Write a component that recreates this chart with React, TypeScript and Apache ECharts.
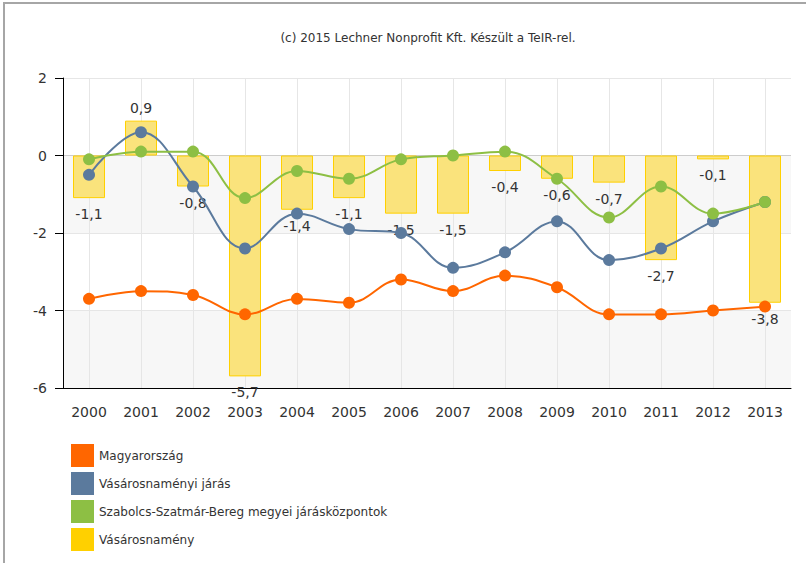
import React, { useEffect, useRef } from "react";
import * as echarts from "echarts";

const categories = ["2000","2001","2002","2003","2004","2005","2006","2007","2008","2009","2010","2011","2012","2013"];
const vasarosnameny = [-1.1, 0.9, -0.8, -5.7, -1.4, -1.1, -1.5, -1.5, -0.4, -0.6, -0.7, -2.7, -0.1, -3.8];
const magyarorszag = [-3.7, -3.5, -3.6, -4.1, -3.7, -3.8, -3.2, -3.5, -3.1, -3.4, -4.1, -4.1, -4.0, -3.9];
const jaras = [-0.5, 0.6, -0.8, -2.4, -1.5, -1.9, -2.0, -2.9, -2.5, -1.7, -2.7, -2.4, -1.7, -1.2];
const kozpontok = [-0.1, 0.1, 0.1, -1.1, -0.4, -0.6, -0.1, 0.0, 0.1, -0.6, -1.6, -0.8, -1.5, -1.2];
const yTicks = { min: -6, max: 2, interval: 2 };
const names = ["Magyarország", "Vásárosnaményi járás", "Szabolcs-Szatmár-Bereg megyei járásközpontok", "Vásárosnamény"];
const colors = ["#ff6600", "#5b7a9d", "#8dbf44", "#ffd000"];
const titleText = "(c) 2015 Lechner Nonprofit Kft. Készült a TeIR-rel.";

const FONT = "DejaVu Sans, Verdana, sans-serif";
const fmt = (v: number) => v.toFixed(1).replace(".", ",");

export default function App() {
  const ref = useRef<HTMLDivElement>(null);
  useEffect(() => {
    document.body.style.margin = "0";
    if (!ref.current) return;
    const chart = echarts.init(ref.current, undefined, { renderer: "svg" });
    const lineSeries = (name: string, data: number[], color: string) => ({
      name,
      type: "line",
      data,
      smooth: 0.4,
      symbol: "circle",
      symbolSize: 12,
      itemStyle: { color },
      lineStyle: { color, width: 2 },
      z: 3,
    });
    chart.setOption({
      animation: false,
      textStyle: { fontFamily: FONT },
      graphic: [
        {
          type: "rect",
          shape: { x: 4, y: 3, width: 900, height: 800 },
          style: { fill: "none", stroke: "#a6a6a6", lineWidth: 2 },
          silent: true,
        },
        {
          type: "text",
          x: 428,
          y: 38,
          style: {
            text: titleText,
            fill: "#333",
            font: "12px " + FONT,
            textAlign: "center",
            textVerticalAlign: "middle",
          },
        },
      ],
      legend: {
        orient: "vertical",
        left: 71,
        top: 444,
        height: 115,
        padding: 0,
        itemWidth: 23,
        itemHeight: 23,
        itemGap: 5,
        icon: "rect",
        data: names.map((n, i) => ({
          name: n,
          itemStyle: { color: colors[i], borderWidth: 0 },
        })),
        textStyle: { fontSize: 12, color: "#333", fontFamily: FONT },
        selectedMode: false,
      },
      grid: [
        { left: 63, right: 15, top: 78, bottom: 175 },
        { left: 89, right: 41, top: 78, bottom: 175 },
      ],
      xAxis: [
        {
          type: "category",
          data: categories,
          gridIndex: 0,
          boundaryGap: true,
          axisLine: { onZero: false, lineStyle: { color: "#000", width: 1 } },
          axisTick: { alignWithLabel: true, length: 6, lineStyle: { color: "#000" } },
          axisLabel: { color: "#333", fontSize: 14, margin: 17, fontFamily: FONT },
          splitLine: { show: false },
          z: 2,
        },
        {
          type: "category",
          data: categories,
          gridIndex: 1,
          boundaryGap: false,
          axisLine: { show: false },
          axisTick: { show: false },
          axisLabel: { show: false },
          splitLine: { show: true, lineStyle: { color: "#e6e6e6", width: 1 } },
          z: 1,
        },
      ],
      yAxis: [
        {
          type: "value",
          gridIndex: 0,
          min: yTicks.min,
          max: yTicks.max,
          interval: yTicks.interval,
          axisLine: { show: true, lineStyle: { color: "#000", width: 1 } },
          axisTick: { show: true, length: 8, lineStyle: { color: "#000" } },
          axisLabel: { color: "#333", fontSize: 14, margin: 16, fontFamily: FONT },
          splitLine: {
            show: true,
            lineStyle: {
              color: ["#e6e6e6", "#e6e6e6", "#e6e6e6", "#cccccc", "#e6e6e6"],
              width: 1,
            },
          },
          splitArea: { show: true, areaStyle: { color: ["#f7f7f7", "#ffffff"] } },
          z: 0,
        },
        { type: "value", gridIndex: 1, min: 0, max: 1, show: false },
      ],
      series: [
        {
          name: names[3],
          type: "bar",
          barWidth: 32,
          data: vasarosnameny.map((v) => ({
            value: v,
            label: {
              show: true,
              position: v >= 0 ? "top" : "bottom",
              distance: v >= 0 ? 6 : 9,
            },
          })),
          itemStyle: { color: "#fae37c", borderColor: "#ffd000", borderWidth: 1 },
          label: {
            show: true,
            color: "#333",
            fontSize: 14,
            fontFamily: FONT,
            formatter: (p: any) => fmt(p.value),
          },
          z: 2,
        },
        lineSeries(names[0], magyarorszag, colors[0]),
        lineSeries(names[1], jaras, colors[1]),
        lineSeries(names[2], kozpontok, colors[2]),
      ],
    });
    return () => chart.dispose();
  }, []);
  return <div ref={ref} style={{ width: 806, height: 563 }} />;
}
